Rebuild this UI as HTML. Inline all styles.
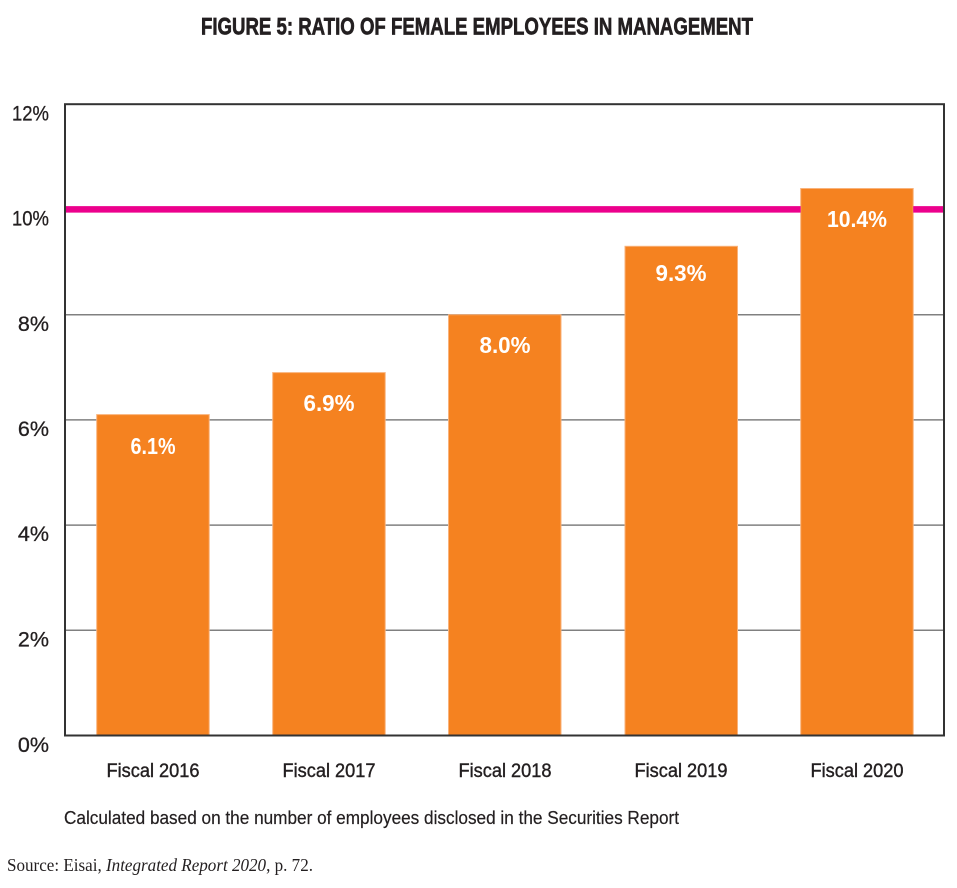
<!DOCTYPE html>
<html>
<head>
<meta charset="utf-8">
<style>
  html, body { margin: 0; padding: 0; background: #ffffff; }
  svg { display: block; }
  text { font-family: "Liberation Sans", sans-serif; fill: #231f20; }
</style>
</head>
<body>
<svg width="957" height="888" viewBox="0 0 957 888" xmlns="http://www.w3.org/2000/svg">
  <rect x="0" y="0" width="957" height="888" fill="#ffffff"/>

  <!-- Title -->
  <text x="201" y="34.5" font-size="24.5" font-weight="bold" stroke="#231f20" stroke-width="0.7" textLength="552" lengthAdjust="spacingAndGlyphs">FIGURE 5: RATIO OF FEMALE EMPLOYEES IN MANAGEMENT</text>

  <!-- Gridlines -->
  <g stroke="#808080" stroke-width="1.5">
    <line x1="65" y1="630.3" x2="944" y2="630.3"/>
    <line x1="65" y1="525.1" x2="944" y2="525.1"/>
    <line x1="65" y1="419.9" x2="944" y2="419.9"/>
    <line x1="65" y1="314.7" x2="944" y2="314.7"/>
  </g>

  <!-- Bars -->
  <g fill="#f58220" stroke="#f9b27a" stroke-width="1">
    <rect x="96.7" y="414.6" width="112.5" height="320.9"/>
    <rect x="272.7" y="372.6" width="112.5" height="362.9"/>
    <rect x="448.5" y="314.7" width="112.5" height="420.8"/>
    <rect x="625" y="246.3" width="112.5" height="489.2"/>
    <rect x="800.7" y="188.5" width="112.5" height="547"/>
  </g>

  <!-- Pink 10% line -->
  <line x1="65" y1="209.4" x2="800.7" y2="209.4" stroke="#ec008c" stroke-width="6.5"/>
  <line x1="913.2" y1="209.4" x2="944" y2="209.4" stroke="#ec008c" stroke-width="6.5"/>

  <!-- Frame -->
  <rect x="65" y="104.2" width="879" height="631.3" fill="none" stroke="#333333" stroke-width="2"/>

  <!-- Value labels -->
  <g font-size="23" font-weight="bold" text-anchor="middle">
    <text x="153" y="454" style="fill:#ffffff" textLength="45" lengthAdjust="spacingAndGlyphs">6.1%</text>
    <text x="329" y="411" style="fill:#ffffff" textLength="51" lengthAdjust="spacingAndGlyphs">6.9%</text>
    <text x="505" y="353" style="fill:#ffffff" textLength="51" lengthAdjust="spacingAndGlyphs">8.0%</text>
    <text x="681" y="281" style="fill:#ffffff" textLength="51" lengthAdjust="spacingAndGlyphs">9.3%</text>
    <text x="857" y="227" style="fill:#ffffff" textLength="60" lengthAdjust="spacingAndGlyphs">10.4%</text>
  </g>

  <!-- Y axis labels -->
  <g font-size="21.5" text-anchor="end" stroke="#231f20" stroke-width="0.3">
    <text x="49" y="120.5" textLength="37" lengthAdjust="spacingAndGlyphs">12%</text>
    <text x="49" y="225.6" textLength="37" lengthAdjust="spacingAndGlyphs">10%</text>
    <text x="49" y="330.8">8%</text>
    <text x="49" y="436">6%</text>
    <text x="49" y="541.2">4%</text>
    <text x="49" y="646.4">2%</text>
    <text x="49" y="752">0%</text>
  </g>

  <!-- X axis labels -->
  <g font-size="19" text-anchor="middle" stroke="#231f20" stroke-width="0.4">
    <text x="153" y="777" textLength="93" lengthAdjust="spacingAndGlyphs">Fiscal 2016</text>
    <text x="329" y="777" textLength="93" lengthAdjust="spacingAndGlyphs">Fiscal 2017</text>
    <text x="505" y="777" textLength="93" lengthAdjust="spacingAndGlyphs">Fiscal 2018</text>
    <text x="681" y="777" textLength="93" lengthAdjust="spacingAndGlyphs">Fiscal 2019</text>
    <text x="857" y="777" textLength="93" lengthAdjust="spacingAndGlyphs">Fiscal 2020</text>
  </g>

  <!-- Caption -->
  <text x="64" y="824" font-size="18" stroke="#231f20" stroke-width="0.2" textLength="615" lengthAdjust="spacingAndGlyphs">Calculated based on the number of employees disclosed in the Securities Report</text>

  <!-- Source -->
  <text x="7" y="871" font-size="17.5" style="font-family:'Liberation Serif', serif;" textLength="306" lengthAdjust="spacingAndGlyphs">Source: Eisai, <tspan font-style="italic">Integrated Report 2020</tspan>, p. 72.</text>
</svg>
</body>
</html>
